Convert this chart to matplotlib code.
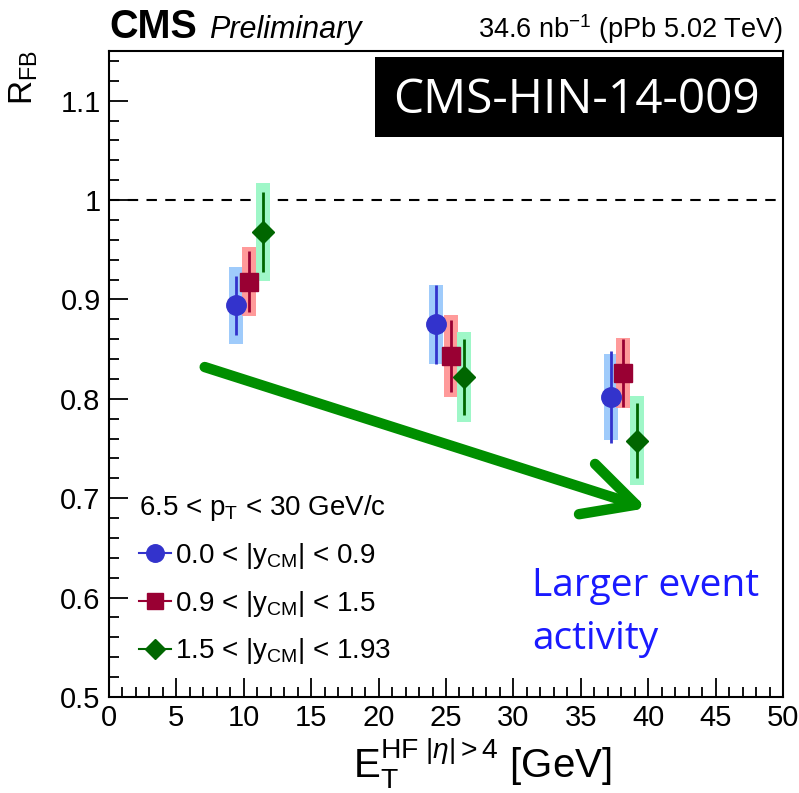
import matplotlib
matplotlib.use("Agg")
import matplotlib.pyplot as plt
from matplotlib.lines import Line2D
from matplotlib.patches import Rectangle
from matplotlib.ticker import MultipleLocator

plt.rcParams["font.family"] = ["Liberation Sans", "DejaVu Sans"]
plt.rcParams["mathtext.fontset"] = "custom"
plt.rcParams["mathtext.rm"] = "Liberation Sans"
plt.rcParams["mathtext.it"] = "Liberation Sans:italic"
plt.rcParams["mathtext.sf"] = "Liberation Sans"

# E_T^HF (GeV) per rapidity bin
x_mid = [9.42, 24.26, 37.24]
x_bwd = [10.40, 25.35, 38.15]
x_fwd = [11.40, 26.30, 39.17]

# R_FB values
r_mid = [0.894, 0.875, 0.802]
r_bwd = [0.918, 0.843, 0.826]
r_fwd = [0.968, 0.822, 0.758]

# statistical uncertainties
stat_mid = [0.030, 0.040, 0.046]
stat_bwd = [0.031, 0.036, 0.034]
stat_fwd = [0.040, 0.038, 0.038]

# systematic uncertainties (boxes)
syst_mid = [0.039, 0.040, 0.043]
syst_bwd = [0.035, 0.041, 0.035]
syst_fwd = [0.049, 0.045, 0.045]

labels = [r"0.0 < |y$_{\mathregular{CM}}$| < 0.9",
          r"0.9 < |y$_{\mathregular{CM}}$| < 1.5",
          r"1.5 < |y$_{\mathregular{CM}}$| < 1.93"]
legend_title = r"6.5 < p$_{\mathregular{T}}$ < 30 GeV/c"

x_ticks = [0, 5, 10, 15, 20, 25, 30, 35, 40, 45, 50]
y_ticks = [0.5, 0.6, 0.7, 0.8, 0.9, 1.0, 1.1]
y_ticklabels = ["0.5", "0.6", "0.7", "0.8", "0.9", "1", "1.1"]

series = [
    (x_mid, r_mid, stat_mid, syst_mid, "#3333cc", "#9fcbfb", "o", 14),
    (x_bwd, r_bwd, stat_bwd, syst_bwd, "#990033", "#ff9a9a", "s", 13),
    (x_fwd, r_fwd, stat_fwd, syst_fwd, "#006600", "#9ff7c8", "D", 11),
]

W, H = 799, 793
fig = plt.figure(figsize=(W / 100, H / 100), dpi=100)
ax = fig.add_axes([109 / W, 1 - 697 / H, (783 - 109) / W, (697 - 51) / H])
ax.set_xlim(0, 50)
ax.set_ylim(0.5, 1.15)

box_half = 0.52
handles = []
for xs, ys, st, sy, col, bcol, mk, ms in series:
    for xi, yi, si in zip(xs, ys, sy):
        ax.add_patch(Rectangle((xi - box_half, yi - si), 2 * box_half, 2 * si,
                               facecolor=bcol, edgecolor="none", zorder=2))
    ax.errorbar(xs, ys, yerr=st, fmt="none", ecolor=col, elinewidth=2,
                capsize=0, zorder=3)
    ax.plot(xs, ys, linestyle="none", marker=mk, markersize=ms, color=col,
            markeredgecolor=col, zorder=4)
    handles.append(Line2D([], [], color=col, lw=1.5, marker=mk,
                          markersize=ms * 0.9, markeredgecolor=col))

ax.axhline(1.0, color="black", lw=1.5, ls=(0, (5, 4)), zorder=1)

# thick green trend arrow
ax.annotate("", xy=(39.9, 0.690), xytext=(7.1, 0.832),
            arrowprops=dict(arrowstyle="->,head_length=3.7,head_width=1.9",
                            lw=7.5, color="#008f00", shrinkA=0, shrinkB=0,
                            capstyle="round", joinstyle="round"),
            zorder=5)

ax.set_xticks(x_ticks)
ax.set_yticks(y_ticks)
ax.set_yticklabels(y_ticklabels)
ax.xaxis.set_minor_locator(MultipleLocator(1))
ax.yaxis.set_minor_locator(MultipleLocator(0.02))
ax.tick_params(which="both", direction="in", top=False, right=False,
               labelsize=21, width=1.3)
ax.tick_params(which="major", length=14)
ax.tick_params(which="minor", length=7)
ax.tick_params(axis="x", pad=5)
ax.tick_params(axis="y", pad=6)
for s in ax.spines.values():
    s.set_linewidth(1.5)

leg = ax.legend(handles, labels, title=legend_title, loc="upper left",
                bbox_to_anchor=(139 / W, 1 - 493 / H),
                bbox_transform=fig.transFigure, frameon=False, fontsize=20,
                title_fontsize=20, alignment="left", borderpad=0,
                borderaxespad=0, handlelength=1.15, handletextpad=0.15,
                labelspacing=0.64)

# header texts
fig.text(109 / W, 1 - 38 / H, "CMS", fontsize=28.5, fontweight="bold",
         ha="left", va="baseline")
fig.text(209 / W, 1 - 38 / H, "Preliminary", fontsize=22, style="italic",
         ha="left", va="baseline")
fig.text(783 / W, 1 - 38 / H, r"34.6 nb$^{\mathregular{-1}}$ (pPb 5.02 TeV)",
         fontsize=19.5, ha="right", va="baseline")

# axis titles
fig.text(24 / W, 1 - 50 / H, r"R$_{\mathregular{FB}}$", fontsize=24,
         rotation=90, ha="center", va="top")
fig.text(482 / W, 1 - 778 / H,
         r"E$_{\mathregular{T}}^{\mathregular{HF\ |}\eta\mathregular{|>4}}$ [GeV]",
         fontsize=29, ha="center", va="baseline")

# analysis tag
fig.patches.append(Rectangle((375 / W, 1 - 137 / H), (783 - 375) / W, 80 / H,
                             transform=fig.transFigure, facecolor="black",
                             edgecolor="none", zorder=10))
fig.text(577 / W, 1 - 100 / H, "CMS-HIN-14-009", fontsize=34.5, color="white",
         family="Open Sans", ha="center", va="center", zorder=11)

ax.text(31.4, 0.585, "Larger event\nactivity", fontsize=28, color="#1a1aff",
        family="Open Sans", ha="left", va="center", linespacing=1.55,
        zorder=6)

fig.savefig("out.png", dpi=100)
